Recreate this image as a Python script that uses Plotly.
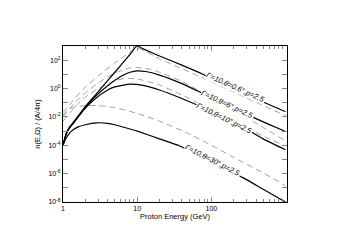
import plotly.graph_objects as go

# Energies (GeV) and log10 n values
e_a = [1, 1.1, 1.2, 1.43, 1.95, 2.67, 4, 6, 8, 9.9, 12, 20, 40, 77, 200, 500, 1000]
s_a = [-4, -3.2, -2.8, -2.28, -1.34, -0.51, 0.56, 1.64, 2.4, 3.0, 2.8, 2.3, 1.65, 1.01, 0.0, -0.95, -1.64]
e_ad = [1, 1.5, 2, 3, 5, 7, 10, 20, 40, 77, 200, 500, 1000]
d_a = [-1.7, -0.6, 0.1, 0.9, 1.8, 2.35, 2.85, 2.1, 1.4, 0.75, -0.25, -1.2, -1.9]

e_b = [1, 1.1, 1.2, 1.43, 1.95, 2.67, 4, 6, 8, 10, 13, 20, 40, 77, 200, 500, 1000]
s_b = [-4, -3.2, -2.8, -2.3, -1.38, -0.6, 0.2, 0.85, 1.15, 1.25, 1.2, 0.95, 0.35, -0.35, -1.4, -2.35, -3.03]
e_bd = [1, 1.5, 2, 3, 5, 8, 10, 15, 20, 40, 77, 200, 500, 1000]
d_b = [-2.0, -0.9, -0.3, 0.4, 1.1, 1.45, 1.48, 1.35, 1.15, 0.5, -0.3, -1.5, -2.75, -3.68]

e_c = [1, 1.1, 1.2, 1.43, 1.95, 2.67, 4, 5, 8, 12, 20, 40, 77, 200, 500, 1000]
s_c = [-4, -3.25, -2.85, -2.35, -1.45, -0.75, -0.1, 0.12, 0.31, 0.22, -0.1, -0.7, -1.34, -2.35, -3.55, -4.32]
e_cd = [1, 1.5, 2, 3, 5, 7, 10, 20, 40, 77, 200, 500, 1000]
d_c = [-2.3, -1.2, -0.6, 0.0, 0.55, 0.72, 0.68, 0.25, -0.45, -1.2, -2.35, -3.35, -4.05]

e_d = [1, 1.1, 1.3, 1.6, 2, 2.8, 4, 5, 8, 10, 20, 37.5, 70, 150, 270, 500, 1000]
s_d = [-4, -3.5, -3.0, -2.7, -2.55, -2.42, -2.45, -2.55, -2.85, -3.0, -3.55, -4.05, -4.7, -5.6, -6.3, -7.1, -8.0]
e_dd = [1, 1.1, 1.25, 1.5, 2, 3, 5, 10, 20, 46, 100, 200, 500, 1000]
d_d = [-1.9, -1.6, -1.4, -1.28, -1.2, -1.2, -1.35, -1.75, -2.3, -3.1, -4.0, -4.85, -5.95, -6.85]

labels = ["Γ=10,θ=0.6°,p=2.5", "Γ=10,θ=6°,p=2.5", "Γ=10,θ=10°,p=2.5", "Γ=10,θ=30°,p=2.5"]

y_ticks = list(range(-8, 4))
y_text = ["10<sup>%d</sup>" % p if p % 2 == 0 and p <= 2 else "" for p in y_ticks]

fig = go.Figure()
solid = dict(color="black", width=1.2)
dash = dict(color="#a0a0a0", width=1, dash="6px,4px")
for ex, ly, st in [(e_ad, d_a, dash), (e_bd, d_b, dash), (e_cd, d_c, dash), (e_dd, d_d, dash),
                   (e_a, s_a, solid), (e_b, s_b, solid), (e_c, s_c, solid), (e_d, s_d, solid)]:
    fig.add_trace(go.Scatter(x=ex, y=[10 ** v for v in ly], mode="lines",
                             line=dict(shape="spline", smoothing=0.5, **st),
                             showlegend=False, hoverinfo="skip"))

label_pos = [(2.33, 0.05, 24), (2.22, -1.11, 25), (2.18, -2.1, 26), (2.02, -5.1, 27)]
for txt, (lx, ly, ang) in zip(labels, label_pos):
    fig.add_annotation(x=lx, y=ly, xref="x", yref="y", text=txt, showarrow=False, textangle=ang,
                       font=dict(family="Liberation Sans, Arial", size=7.5, color="black", style="italic"),
                       bgcolor="white", borderpad=0)

minor_x = [v * m for m in (1, 10, 100) for v in range(2, 10)]
fig.update_layout(
    width=351, height=248, margin=dict(l=55, r=72, t=38, b=54, autoexpand=False),
    paper_bgcolor="white", plot_bgcolor="white",
    font=dict(family="Liberation Sans, Arial", size=7, color="black"),
    xaxis=dict(type="log", range=[0, 3.02], tickvals=[1, 10, 100], ticktext=["1", "10", "100"],
               ticks="inside", ticklen=5, tickcolor="#888", mirror="allticks", showline=True,
               linecolor="black", linewidth=1, showgrid=False, zeroline=False,
               minor=dict(tickvals=minor_x, ticks="inside", ticklen=3, tickcolor="#888", showgrid=False),
               title=dict(text="Proton Energy (GeV)", font=dict(size=7.5), standoff=2), tickfont=dict(size=7)),
    yaxis=dict(type="log", range=[-8, 3], tickvals=[10.0 ** p for p in y_ticks], ticktext=y_text,
               ticks="inside", ticklen=5, tickcolor="#888", mirror="allticks", showline=True,
               linecolor="black", linewidth=1, showgrid=False, zeroline=False,
               title=dict(text="n(E,Ω) / (A/4π)", font=dict(size=7.5), standoff=6), tickfont=dict(size=7)),
)
fig.write_html("out.html")
